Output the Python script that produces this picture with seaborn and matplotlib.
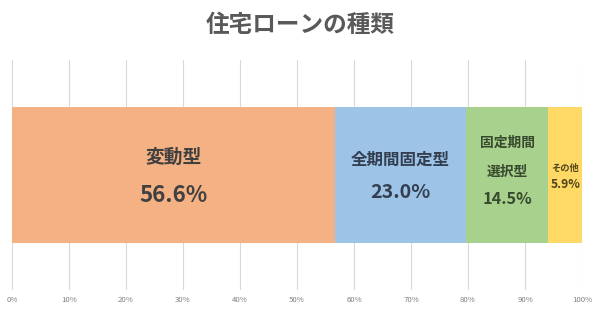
import matplotlib
matplotlib.use("Agg")
import matplotlib.pyplot as plt
import seaborn as sns
import numpy as np
import pandas as pd

categories = ["変動型", "全期間固定型", "固定期間\n選択型", "その他"]
values = [56.6, 23.0, 14.5, 5.9]
colors = ["#F4B183", "#9DC3E6", "#A9D18E", "#FFD966"]
text_colors = ["#404040", "#333F50", "#384A2E", "#4F4318"]
tick_values = list(range(0, 101, 10))
tick_labels = [f"{t}%" for t in tick_values]
title = "住宅ローンの種類"

sns.set_theme(style="white")
plt.rcParams['font.family'] = ['Noto Sans CJK JP', 'DejaVu Sans']

fig = plt.figure(figsize=(6.0, 3.12), dpi=100)
ax = fig.add_axes([0.02, 0.07, 0.95, 0.738])

cum = np.cumsum(values)
starts = cum - np.array(values)
df = pd.DataFrame({"cat": categories, "cum": cum, "row": ["r"] * len(values)})

# draw cumulative bars back to front for stacking
for i in range(len(values) - 1, -1, -1):
    sns.barplot(data=df.iloc[[i]], x="cum", y="row", orient="h", color=colors[i],
                saturation=1, width=0.59, ax=ax, zorder=2, linewidth=0)

ax.set_xlim(0, 100)
ax.set_ylim(0.5, -0.5)
ax.set_xticks(tick_values)
ax.set_xticklabels(tick_labels, fontsize=5.6, color="#808080")
ax.set_yticks([])
ax.set_xlabel("")
ax.set_ylabel("")
ax.tick_params(axis="x", length=0, pad=4)
for s in ax.spines.values():
    s.set_visible(False)
ax.grid(axis="x", color="#d9d9d9", linewidth=0.8, zorder=0)
ax.set_axisbelow(True)

# label layout: list of (lines with (y, size)), value (y, size)
name_layout = [
    [(-0.078, 13.5)],
    [(-0.065, 11.9)],
    [(-0.139, 9.9), (-0.013, 9.9)],
    [(-0.030, 6.7)],
]
value_layout = [(0.087, 16), (0.078, 14.2), (0.104, 11.7), (0.043, 8.7)]

for i, (name, v) in enumerate(zip(categories, values)):
    xc = starts[i] + v / 2
    tc = text_colors[i]
    for line, (ly, ls) in zip(name.split("\n"), name_layout[i]):
        ax.text(xc, ly, line, ha="center", va="center", fontsize=ls,
                fontweight="bold", color=tc, zorder=5)
    vy, vs = value_layout[i]
    ax.text(xc, vy, f"{v:.1f}%", ha="center", va="center", fontsize=vs,
            fontweight="bold", color=tc, zorder=5)

fig.text(0.5, 0.92, title, ha="center", va="center", fontsize=17,
         fontweight="bold", color="#595959")

fig.savefig("out.png", dpi=100, facecolor="white")
